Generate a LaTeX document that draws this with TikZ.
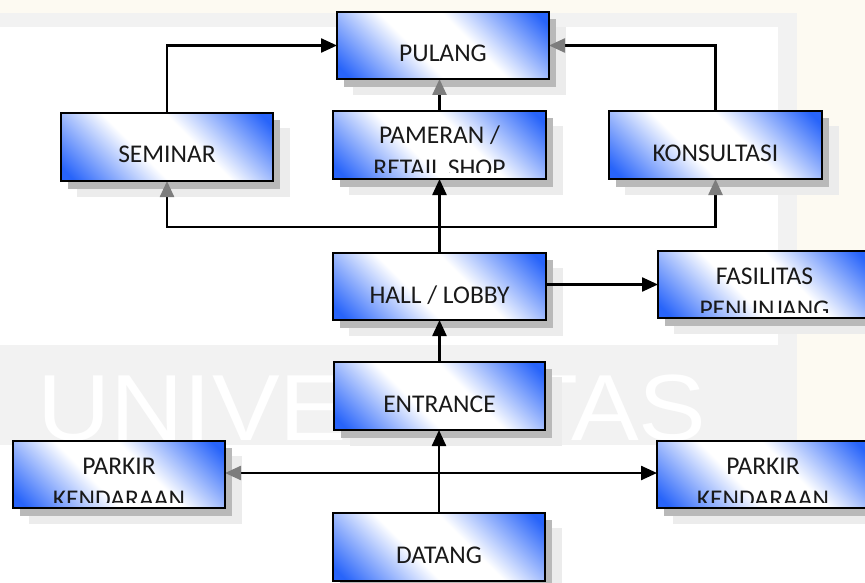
\documentclass[tikz,border=0pt]{standalone}
\usepackage{fontspec}
\setmainfont{Carlito}
\newfontfamily\markfont{Liberation Sans}
\usetikzlibrary{arrows.meta}

\definecolor{boxblue}{RGB}{40,100,250}
\definecolor{textink}{RGB}{25,25,25}
\definecolor{tipgray}{RGB}{125,125,125}
\definecolor{shadecore}{RGB}{185,185,185}
\definecolor{shadehalo}{RGB}{236,236,236}
\definecolor{markgray}{RGB}{242,242,242}
\definecolor{markcream}{RGB}{253,250,242}

% blue towards two opposite corners, white band along the other diagonal
\pgfdeclareverticalshading{boxfade}{100bp}{color(0bp)=(boxblue); color(18bp)=(boxblue); color(42bp)=(white); color(58bp)=(white); color(82bp)=(boxblue); color(100bp)=(boxblue)}

\pgfdeclarelayer{shadows}
\pgfdeclarelayer{links}
\pgfsetlayers{shadows,links,main}

\tikzset{
  flowbox/.style={rectangle, draw=black, line width=2pt, shade, shading=boxfade,
    shading angle=-45, inner sep=0pt, outer sep=0pt},
  boxtext/.style={anchor=base, inner sep=0pt, text=textink,
    font=\fontsize{25.5}{30}\selectfont},
  conn/.style={draw=black, line width=2.4pt},
  tipk/.style={-{Triangle[length=16pt,width=14pt]}},
  tipg/.style={-{Triangle[length=16pt,width=14pt,color=tipgray]}},
}

% #1 name, #2 x1, #3 y1, #4 x2, #5 y2
\newcommand{\chartframe}[5]{%
  \begin{pgfonlayer}{shadows}
    \fill[shadehalo] ({#2+16},{#3+15}) rectangle ({#4+17},{#5+16});
    \fill[shadecore] ({#2+7},{#3+7}) rectangle ({#4+7},{#5+8});
  \end{pgfonlayer}
  \node[flowbox, minimum width={(#4-#2)*1pt}, minimum height={(#5-#3)*1pt}]
    (#1) at ({(#2+#4)/2},{(#3+#5)/2}) {};
}
% one line of text
\newcommand{\chartboxone}[6]{%
  \chartframe{#1}{#2}{#3}{#4}{#5}
  \begin{scope}
    \clip (#2,#3) rectangle (#4,{#5-6});
    \node[boxtext] (#1-1) at ({(#2+#4)/2},{#3+50}) {#6};
  \end{scope}
}
% two lines of text, the second cut off by the box
\newcommand{\chartboxtwo}[7]{%
  \chartframe{#1}{#2}{#3}{#4}{#5}
  \begin{scope}
    \clip (#2,#3) rectangle (#4,{#5-6});
    \node[boxtext] (#1-1) at ({(#2+#4)/2},{#3+33}) {#6};
    \node[boxtext] (#1-2) at ({(#2+#4)/2},{#3+66}) {#7};
  \end{scope}
}

\begin{document}
\begin{tikzpicture}[x=1pt,y=-1pt]
  \useasboundingbox (0,0) rectangle (865,583);
  \clip (0,0) rectangle (865,583);

  % faint watermark behind the chart
  \begin{pgfonlayer}{shadows}
    \fill[white] (0,0) rectangle (865,583);
    \fill[markcream] (0,0) rectangle (865,13);
    \fill[markgray] (0,13) rectangle (797,27);
    \fill[markcream] (797,13) rectangle (865,440);
    \fill[markgray] (778,27) rectangle (797,345);
    \fill[markgray] (0,345) rectangle (797,445);
    \node[anchor=base west, inner sep=0pt, text=white, xscale=1.08,
      font=\markfont\fontsize{94}{94}\selectfont] (mark) at (37,440) {UNIVERSITAS};
  \end{pgfonlayer}

  % boxes
  \chartboxone{pulang}{337}{12}{549}{79}{PULANG}
  \chartboxone{seminar}{61}{113}{273}{181}{SEMINAR}
  \chartboxtwo{pameran}{333}{111}{546}{179}{PAMERAN /}{RETAIL SHOP}
  \chartboxone{konsultasi}{609}{111}{822}{179}{KONSULTASI}
  \chartboxone{hall}{333}{253}{546}{320}{HALL / LOBBY}
  \chartboxtwo{fasilitas}{658}{251}{871}{318}{FASILITAS}{PENUNJANG}
  \chartboxone{entrance}{334}{362}{545}{430}{ENTRANCE}
  \chartboxtwo{parkirkiri}{13}{441}{225}{508}{PARKIR}{KENDARAAN}
  \chartboxtwo{parkirkanan}{657}{441}{869}{508}{PARKIR}{KENDARAAN}
  \chartboxone{datang}{333}{513}{545}{581}{DATANG}

  % connectors
  \coordinate (splitrow) at (0,227);
  \coordinate (parkrow) at (0,473);
  \coordinate (split) at (hall.north |- splitrow);
  \coordinate (hub) at (datang.north |- parkrow);
  \begin{pgfonlayer}{links}
    \draw[conn,tipk] (seminar.north) |- (pulang.west);
    \draw[conn,tipg] (konsultasi.north) |- (pulang.east);
    \draw[conn,tipg] (pameran.north) -- (pameran.north |- pulang.south);
    \draw[conn,tipk] (hall.north) -- (hall.north |- pameran.south);
    \draw[conn,tipg] (split) -| (seminar.south);
    \draw[conn,tipg] (split) -| (konsultasi.south);
    \draw[conn,tipk] (fasilitas.west -| hall.east) -- (fasilitas.west);
    \draw[conn,tipk] (entrance.north) -- (entrance.north |- hall.south);
    \draw[conn,tipk] (datang.north) -- (datang.north |- entrance.south);
    \draw[conn,tipg] (hub) -- (hub -| parkirkiri.east);
    \draw[conn,tipk] (hub) -- (hub -| parkirkanan.west);
  \end{pgfonlayer}
\end{tikzpicture}
\end{document}
